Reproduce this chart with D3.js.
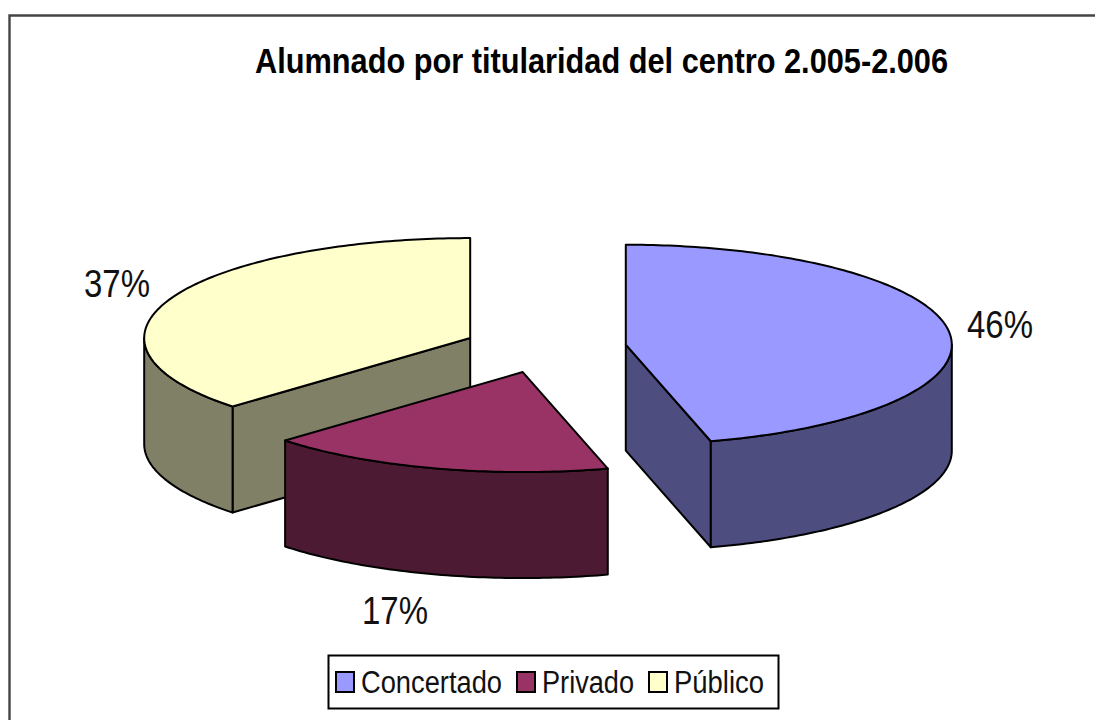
<!DOCTYPE html>
<html>
<head>
<meta charset="utf-8">
<script src="https://cdn.jsdelivr.net/npm/d3@7"></script>
<style>
  html, body { margin: 0; padding: 0; background: #fff; }
  svg { display: block; font-family: "Liberation Sans", Arial, sans-serif; }
</style>
</head>
<body>
<div id="chart"></div>
<script>
// Data (labels show the rounded value)
var categories = ["Concertado", "Privado", "Público"];
var percents = [45.8, 17.2, 37];
var colors = ["#9999ff", "#993366", "#ffffcc"];
var titleText = "Alumnado por titularidad del centro 2.005-2.006";

// Layout
var width = 1095, height = 720;
var pie3d = {cx: 545, cy: 348, rx: 326, ry: 100, depth: 106, explode: 0.25};
var labelPos = {
    "Concertado": {x: 967, y: 338},
    "Privado": {x: 362, y: 624},
    "Público": {x: 84, y: 297}
};

var svg = d3.select("#chart").append("svg")
    .attr("width", width)
    .attr("height", height);

// frame: only top and left edges show in the picture
svg.append("path")
    .attr("d", "M9.5," + height + "V15.5H" + width)
    .attr("fill", "none")
    .attr("stroke", "#444")
    .attr("stroke-width", 2.4);

// the text in the picture is narrower than the font, so squeeze it with textLength
svg.append("text")
    .attr("x", 255)
    .attr("y", 73)
    .attr("font-size", 35)
    .attr("font-weight", "bold")
    .attr("fill", "#000")
    .attr("textLength", 693)
    .attr("lengthAdjust", "spacingAndGlyphs")
    .text(titleText);

// unit circle to screen scales, the ellipse squash lives here
var x = d3.scaleLinear().domain([-1, 1]).range([pie3d.cx - pie3d.rx, pie3d.cx + pie3d.rx]);
var y = d3.scaleLinear().domain([-1, 1]).range([pie3d.cy - pie3d.ry, pie3d.cy + pie3d.ry]);

var pie = d3.pie().sort(null).value(function(d) { return d; });
var arcs = pie(percents);

var line = d3.line()
    .x(function(d) { return d[0]; })
    .y(function(d) { return d[1]; });

// half of each channel gives the dark side colour
function shade(c) {
    var rgb = d3.rgb(c);
    return d3.rgb(rgb.r / 2, rgb.g / 2, rgb.b / 2).formatHex();
}

// points along the rim between two angles, 0 = 12 o'clock, clockwise
function rim(off, a0, a1, drop) {
    var n = Math.max(2, Math.ceil((a1 - a0) * 60));
    return d3.range(n + 1).map(function(i) {
        var a = a0 + (a1 - a0) * i / n;
        return [x(off[0] + Math.sin(a)), y(off[1] - Math.cos(a)) + drop];
    });
}

var slices = arcs.map(function(d, i) {
    var mid = (d.startAngle + d.endAngle) / 2;
    return {
        start: d.startAngle,
        end: d.endAngle,
        off: [pie3d.explode * Math.sin(mid), -pie3d.explode * Math.cos(mid)],
        color: colors[i]
    };
});

// back slices first
slices.sort(function(a, b) { return a.off[1] - b.off[1]; });

var strokeW = 2;

slices.forEach(function(s) {
    var g = svg.append("g")
        .attr("fill", shade(s.color))
        .attr("stroke", "#000")
        .attr("stroke-width", strokeW)
        .attr("stroke-linejoin", "round");
    var apex = [x(s.off[0]), y(s.off[1])];

    // cut faces that look towards the viewer
    [s.start, s.end].forEach(function(a, k) {
        var visible = k === 0 ? Math.sin(a) < -0.001 : Math.sin(a) > 0.001;
        if (!visible) return;
        var p = rim(s.off, a, a, 0)[0];
        g.append("path").attr("d", line([
            apex, p, [p[0], p[1] + pie3d.depth], [apex[0], apex[1] + pie3d.depth]
        ]) + "Z");
    });

    // outer wall, only the front half of the rim
    var a0 = Math.max(s.start, Math.PI / 2), a1 = Math.min(s.end, 3 * Math.PI / 2);
    if (a1 > a0) {
        var topEdge = rim(s.off, a0, a1, 0);
        var bottomEdge = rim(s.off, a0, a1, pie3d.depth).reverse();
        g.append("path").attr("d", line(topEdge.concat(bottomEdge)) + "Z");
    }

    // top face
    g.append("path")
        .attr("fill", s.color)
        .attr("d", line([apex].concat(rim(s.off, s.start, s.end, 0))) + "Z");
});

// percent labels
categories.forEach(function(c, i) {
    svg.append("text")
        .attr("x", labelPos[c].x)
        .attr("y", labelPos[c].y)
        .attr("font-size", 39)
        .attr("fill", "#111")
        .attr("textLength", 66)
        .attr("lengthAdjust", "spacingAndGlyphs")
        .text(Math.round(percents[i]) + "%");
});

// legend
var legend = svg.append("g");
legend.append("rect")
    .attr("x", 328.5).attr("y", 655.5)
    .attr("width", 450).attr("height", 53)
    .attr("fill", "#fff")
    .attr("stroke", "#000")
    .attr("stroke-width", 2);

var legendX = d3.scaleOrdinal().domain(categories).range([336, 517, 649]);
var legendW = d3.scaleOrdinal().domain(categories).range([141, 92, 90]);

categories.forEach(function(c, i) {
    legend.append("rect")
        .attr("x", legendX(c)).attr("y", 672)
        .attr("width", 18).attr("height", 20)
        .attr("fill", colors[i])
        .attr("stroke", "#000")
        .attr("stroke-width", 2);
    legend.append("text")
        .attr("x", legendX(c) + 25)
        .attr("y", 693)
        .attr("font-size", 31)
        .attr("fill", "#111")
        .attr("textLength", legendW(c))
        .attr("lengthAdjust", "spacingAndGlyphs")
        .text(c);
});
</script>
</body>
</html>
